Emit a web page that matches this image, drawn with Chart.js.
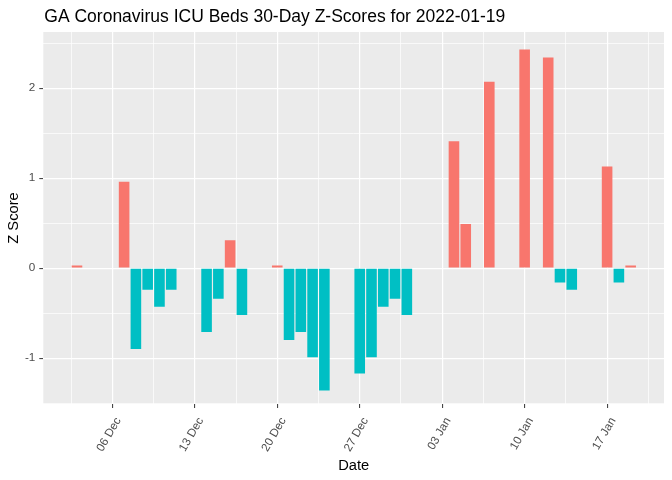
<!DOCTYPE html>
<html>
<head>
<meta charset="utf-8">
<script src="https://cdn.jsdelivr.net/npm/chart.js@4/dist/chart.umd.min.js"></script>
<style>
  html, body { margin: 0; padding: 0; background: #fff; }
  #wrap { width: 672px; height: 480px; }
</style>
</head>
<body>
<div id="wrap"><canvas id="zChart" width="672" height="480"></canvas></div>
<script>
const chartTitle = "GA Coronavirus ICU Beds 30-Day Z-Scores for 2022-01-19"

const dates = [
  '2021-12-03', '2021-12-07', '2021-12-08', '2021-12-09', '2021-12-10', '2021-12-11',
  '2021-12-14', '2021-12-15', '2021-12-16', '2021-12-17', '2021-12-20', '2021-12-21',
  '2021-12-22', '2021-12-23', '2021-12-24', '2021-12-27', '2021-12-28', '2021-12-29',
  '2021-12-30', '2021-12-31', '2022-01-04', '2022-01-05', '2022-01-07', '2022-01-10',
  '2022-01-12', '2022-01-13', '2022-01-14', '2022-01-17', '2022-01-18', '2022-01-19'
]
const zScores = [
  0.03, 0.96, -0.90, -0.24, -0.43, -0.24,
  -0.71, -0.34, 0.31, -0.52, 0.03, -0.80,
  -0.71, -0.99, -1.36, -1.17, -0.99, -0.43,
  -0.34, -0.52, 1.41, 0.49, 2.07, 2.43,
  2.34, -0.16, -0.24, 1.13, -0.16, 0.03
]

const tickDates = ['2021-12-06', '2021-12-13', '2021-12-20', '2021-12-27', '2022-01-03', '2022-01-10', '2022-01-17']
const tickLabels = ['06 Dec', '13 Dec', '20 Dec', '27 Dec', '03 Jan', '10 Jan', '17 Jan']
const yTicks = [-1, 0, 1, 2]

// days counted from the first tick date
const base = Date.parse(tickDates[0])
const toDay = d => (Date.parse(d) - base) / 86400000

const points = dates.map((d, i) => ({ x: toDay(d), y: zScores[i] }))
const majorX = tickDates.map(toDay)
const minorX = [-3.5].concat(majorX.map(v => v + 3.5))
const minorY = [-1.5, -0.5, 0.5, 1.5, 2.5]

const panelBg = {
  id: 'panelBg',
  beforeDraw(chart) {
    const { ctx, chartArea: a } = chart
    ctx.save()
    ctx.fillStyle = '#EBEBEB'
    ctx.fillRect(a.left, a.top, a.right - a.left, a.bottom - a.top)
    ctx.restore()
  }
}

const plotTitle = {
  id: 'plotTitle',
  afterDraw(chart) {
    const ctx = chart.ctx
    ctx.save()
    ctx.font = '17.5px "Liberation Sans", Arial, sans-serif'
    ctx.fillStyle = '#000'
    ctx.textBaseline = 'alphabetic'
    ctx.textAlign = 'left'
    ctx.fillText(chartTitle, chart.chartArea.left + 1, 22)
    ctx.restore()
  }
}

const isMajorX = v => majorX.some(m => Math.abs(m - v) < 1e-6)
const isMajorY = v => yTicks.some(m => Math.abs(m - v) < 1e-6)
const tickFont = { family: '"Liberation Sans", Arial, sans-serif', size: 11.7 }
const titleFont = { family: '"Liberation Sans", Arial, sans-serif', size: 14.7 }

new Chart(document.getElementById('zChart'), {
  type: 'bar',
  data: {
    datasets: [{
      data: points,
      backgroundColor: points.map(p => p.y > 0 ? '#F8766D' : '#00BFC4'),
      borderWidth: 0,
      barPercentage: 0.9,
      categoryPercentage: 1.0
    }]
  },
  options: {
    responsive: false,
    animation: false,
    layout: { padding: { top: 32, right: 8, left: 0, bottom: 0 } },
    plugins: {
      legend: { display: false },
      tooltip: { enabled: false },
      title: { display: false }
    },
    scales: {
      x: {
        type: 'linear',
        min: -5.86,
        max: 46.83,
        offset: false,
        afterFit: s => { s.height = 76 },
        afterBuildTicks: s => {
          s.ticks = minorX.concat(majorX).sort((a, b) => a - b).map(v => ({ value: v }))
        },
        border: { display: false },
        grid: {
          offset: false,
          color: '#FFFFFF',
          lineWidth: c => isMajorX(c.tick.value) ? 1.2 : 0.7,
          tickLength: 4,
          tickWidth: 1,
          tickColor: c => isMajorX(c.tick.value) ? '#333333' : 'rgba(0,0,0,0)'
        },
        ticks: {
          autoSkip: false,
          minRotation: 60,
          maxRotation: 60,
          padding: 7,
          labelOffset: 6,
          color: '#4D4D4D',
          font: tickFont,
          callback: v => {
            const i = majorX.findIndex(m => Math.abs(m - v) < 1e-6)
            return i >= 0 ? tickLabels[i] : ''
          }
        },
        title: {
          display: true,
          text: 'Date',
          color: '#000',
          font: titleFont,
          padding: { top: 0, bottom: 5 }
        }
      },
      y: {
        min: -1.51,
        max: 2.624,
        afterFit: s => { s.width = 43.3 },
        afterBuildTicks: s => {
          s.ticks = minorY.concat(yTicks).sort((a, b) => a - b).map(v => ({ value: v }))
        },
        border: { display: false },
        grid: {
          color: '#FFFFFF',
          lineWidth: c => isMajorY(c.tick.value) ? 1.2 : 0.7,
          tickLength: 4,
          tickWidth: 1,
          tickColor: c => isMajorY(c.tick.value) ? '#333333' : 'rgba(0,0,0,0)'
        },
        ticks: {
          padding: 4,
          color: '#4D4D4D',
          font: tickFont,
          callback: v => isMajorY(v) ? String(v) : ''
        },
        title: {
          display: true,
          text: 'Z Score',
          color: '#000',
          font: titleFont,
          padding: { top: 5, bottom: 0 }
        }
      }
    }
  },
  plugins: [panelBg, plotTitle]
})
</script>
</body>
</html>
